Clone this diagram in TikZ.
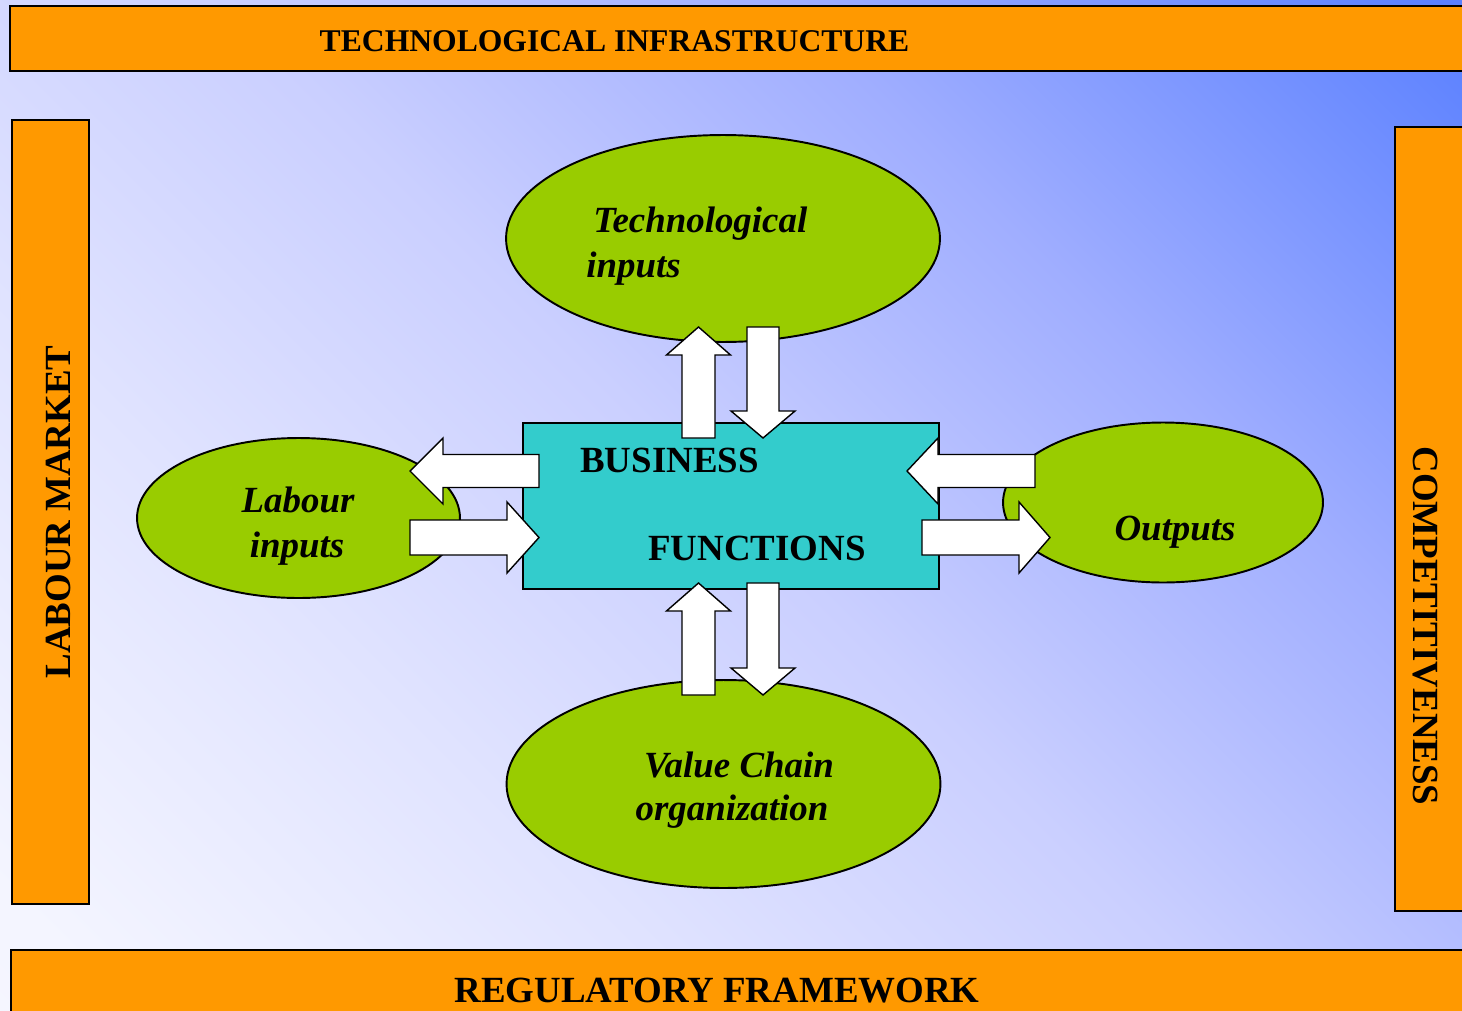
\documentclass[tikz,border=0pt]{standalone}
\usepackage{fontspec}
\setmainfont{Liberation Serif}
\usetikzlibrary{shapes.geometric}
\definecolor{barorange}{HTML}{FF9900}
\definecolor{ellgreen}{HTML}{99CC00}
\definecolor{boxteal}{HTML}{33CCCC}
\definecolor{bgA}{HTML}{F8F8FF}
\definecolor{bgB}{HTML}{F4F5FF}
\definecolor{bgC}{HTML}{E0E3FF}
\definecolor{bgD}{HTML}{CACFFF}
\definecolor{bgE}{HTML}{A0AEFF}
\definecolor{bgF}{HTML}{5A80FF}
\pgfdeclarehorizontalshading{bgshade}{100bp}{color(0bp)=(bgA); color(18bp)=(bgB); color(35bp)=(bgC); color(50bp)=(bgD); color(66bp)=(bgE); color(85bp)=(bgF); color(100bp)=(bgF)}
\newcommand\blockarrow[7]{%
  \draw[arrowbox, shift={(#1,#2)}, rotate=#3] (0,-#6) -- (#4-#5,-#6) -- (#4-#5,-#7) -- (#4,0) -- (#4-#5,#7) -- (#4-#5,#6) -- (0,#6) -- cycle;}
\begin{document}
\begin{tikzpicture}[x=0.02cm, y=-0.02cm,
  barbox/.style={draw=black, line width=1.2pt, fill=barorange},
  ellbox/.style={ellipse, draw=black, line width=1.1pt, fill=ellgreen, inner sep=0pt},
  funcbox/.style={rectangle, draw=black, line width=1.1pt, fill=boxteal, inner sep=0pt},
  arrowbox/.style={draw=black, line width=0.8pt, fill=white, line join=miter},
  captxt/.style={font=\fontsize{21}{25}\selectfont\bfseries, inner sep=0pt},
  toptxt/.style={font=\fontsize{18}{22}\selectfont\bfseries, inner sep=0pt},
  ittxt/.style={font=\fontsize{21}{25}\selectfont\bfseries\itshape, inner sep=0pt}]
\useasboundingbox (0,0) rectangle (1462,1010);
\clip (0,0) rectangle (1462,1010);
\shade[shading=bgshade, shading angle=45] (0,0) rectangle (1462,1010);
% frame bars
\draw[barbox] (10,6) rectangle (1480,71);
\draw[barbox] (12,120) rectangle (89,904);
\draw[barbox] (1395,127) rectangle (1480,911);
\draw[barbox] (11,950) rectangle (1480,1030);
\node[toptxt, anchor=base] (tinfra) at (614.5,52) {TECHNOLOGICAL INFRASTRUCTURE};
\node[captxt, anchor=base] (regfw) at (717,1002) {REGULATORY FRAMEWORK};
\node[captxt, anchor=base, rotate=90] (labmkt) at (70,512) {LABOUR MARKET};
\node[captxt, anchor=base, rotate=-90] (compet) at (1413,626) {COMPETITIVENESS};
% ellipses
\node[ellbox, minimum width=8.68cm, minimum height=4.14cm] (tech) at (723,238.5) {};
\node[ellbox, minimum width=8.68cm, minimum height=4.16cm] (value) at (723.5,784) {};
\node[ellbox, minimum width=6.46cm, minimum height=3.2cm] (labour) at (298.5,518) {};
\node[ellbox, minimum width=6.4cm, minimum height=3.2cm] (outputs) at (1163,502.5) {};
\node[ittxt, anchor=base west] (techA) at (593,232) {Technological};
\node[ittxt, anchor=base west] (techB) at (586,277) {inputs};
\node[ittxt, anchor=base] (labA) at (298,512) {Labour};
\node[ittxt, anchor=base] (labB) at (297,557) {inputs};
\node[ittxt, anchor=base] (valA) at (739,777) {Value Chain};
\node[ittxt, anchor=base] (valB) at (732,820) {organization};
\node[ittxt, anchor=base] (outA) at (1175,540) {Outputs};
% central box
\node[funcbox, minimum width=8.32cm, minimum height=3.32cm] (bf) at (731,506) {};
\node[captxt, anchor=base west] (bfA) at (580,472) {BUSINESS};
\node[captxt, anchor=base west] (bfB) at (648,560) {FUNCTIONS};
% block arrows
\blockarrow{698.5}{438}{90}{111}{28}{16.5}{32}
\blockarrow{763}{327}{-90}{111}{27}{16}{32}
\blockarrow{698.5}{695}{90}{112}{28}{16.5}{32}
\blockarrow{763}{583}{-90}{112}{27}{16}{32}
\blockarrow{539}{471}{180}{129}{33}{16.5}{33}
\blockarrow{410}{537.5}{0}{129}{32}{17.5}{35.5}
\blockarrow{1035}{471}{180}{128}{31}{16.5}{33}
\blockarrow{922}{537.5}{0}{128}{31}{17.5}{35.5}
\end{tikzpicture}
\end{document}
